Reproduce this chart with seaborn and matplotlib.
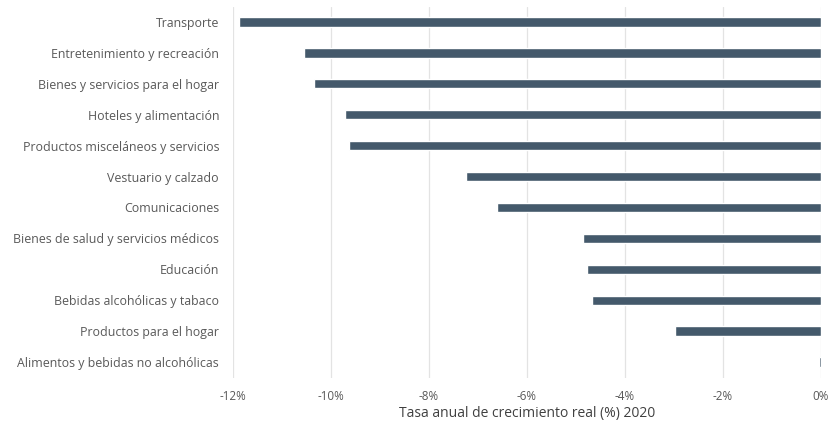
import matplotlib
matplotlib.use("Agg")
import matplotlib.pyplot as plt
import seaborn as sns
import pandas as pd
from matplotlib.ticker import FuncFormatter

categories = [
    "Transporte",
    "Entretenimiento y recreación",
    "Bienes y servicios para el hogar",
    "Hoteles y alimentación",
    "Productos misceláneos y servicios",
    "Vestuario y calzado",
    "Comunicaciones",
    "Bienes de salud y servicios médicos",
    "Educación",
    "Bebidas alcohólicas y tabaco",
    "Productos para el hogar",
    "Alimentos y bebidas no alcohólicas",
]
values = [-11.87, -10.55, -10.35, -9.71, -9.63, -7.25, -6.62, -4.86, -4.78, -4.68, -2.97, -0.05]
xticks = [-12, -10, -8, -6, -4, -2, 0]
xlabel = "Tasa anual de crecimiento real (%) 2020"

df = pd.DataFrame({"cat": categories, "val": values})

sns.set_theme(style="white")
plt.rcParams["font.family"] = ["Open Sans", "DejaVu Sans"]

fig = plt.figure(figsize=(8.3, 4.24), dpi=100)
ax = fig.add_axes([233 / 830, 1 - 377.5 / 424, (821 - 233) / 830, (377.5 - 6.5) / 424])

sns.barplot(data=df, x="val", y="cat", orient="h", color="#44596b", width=0.3,
            saturation=1, ax=ax, zorder=3)

ax.set_xlim(-12, 0)
ax.set_xticks(xticks)
ax.xaxis.set_major_formatter(FuncFormatter(lambda v, p: f"{int(round(v))}%"))
ax.xaxis.grid(True, color="#e3e3e3", linewidth=0.9, zorder=0)
ax.yaxis.grid(False)
for s in ax.spines.values():
    s.set_visible(False)
ax.tick_params(axis="both", length=0, colors="#595959")
ax.tick_params(axis="y", pad=10, labelsize=8.9)
ax.tick_params(axis="x", pad=9, labelsize=8.4)
ax.set_ylabel("")
ax.set_xlabel(xlabel, color="#404040", fontsize=10, labelpad=2)
for lbl in ax.get_xticklabels():
    lbl.set_clip_on(False)

fig.savefig("out.png", dpi=100)
